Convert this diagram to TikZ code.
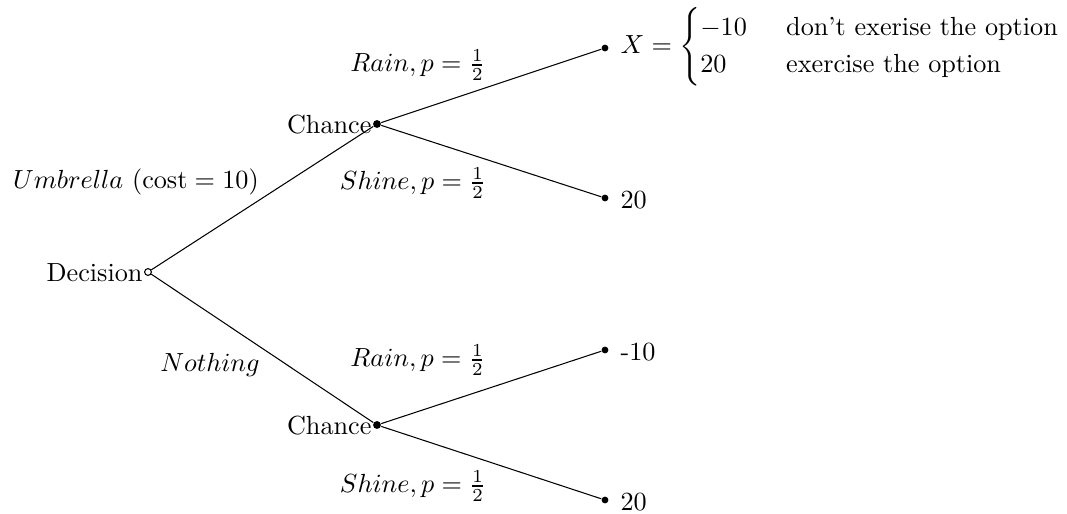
\documentclass[tikz,border=0pt]{standalone}
\usepackage{amsmath}
\begin{document}
\begin{tikzpicture}[x=0.3817pt,y=-0.3817pt,
  dec/.style={circle,draw,fill=white,inner sep=0pt,minimum size=2.6pt,line width=0.4pt},
  chn/.style={circle,fill=black,inner sep=0pt,minimum size=3pt},
  leaf/.style={circle,fill=black,inner sep=0pt,minimum size=2.6pt},
  lbl/.style={inner sep=0pt},
  edge/.style={line width=0.4pt}]
\useasboundingbox (0,0) rectangle (1067,513);
\node[dec] (d) at (148,272) {};
\node[chn] (c1) at (377,124) {};
\node[chn] (c2) at (377,425) {};
\node[leaf] (l1) at (605,48) {};
\node[leaf] (l2) at (605,198) {};
\node[leaf] (l3) at (605,350) {};
\node[leaf] (l4) at (605,500) {};
\draw[edge] (d) -- (c1);
\draw[edge] (d) -- (c2);
\draw[edge] (c1) -- (l1);
\draw[edge] (c1) -- (l2);
\draw[edge] (c2) -- (l3);
\draw[edge] (c2) -- (l4);
\node[lbl,anchor=east] (dl) at (143,273) {Decision};
\node[lbl,anchor=east] (c1l) at (372,125) {Chance};
\node[lbl,anchor=east] (c2l) at (372,426) {Chance};
\node[lbl] (e1) at (136,182) {$Umbrella$ $(\mathrm{cost}=10)$};
\node[lbl] (e2) at (210,365) {$Nothing$};
\node[lbl] (e3) at (418,65) {$Rain, p=\frac{1}{2}$};
\node[lbl] (e4) at (413,183) {$Shine, p=\frac{1}{2}$};
\node[lbl] (e5) at (418,360) {$Rain, p=\frac{1}{2}$};
\node[lbl] (e6) at (413,486) {$Shine, p=\frac{1}{2}$};
\node[lbl,anchor=base west] (t1) at (620,53) {$X=\begin{cases}-10 & \hspace{5pt}\text{don't exerise the option}\\ 20 & \hspace{5pt}\text{exercise the option}\end{cases}$};
\node[lbl,anchor=base west] (t2) at (620,208) {20};
\node[lbl,anchor=base west] (t3) at (620,360) {-10};
\node[lbl,anchor=base west] (t4) at (620,510) {20};
\end{tikzpicture}
\end{document}
